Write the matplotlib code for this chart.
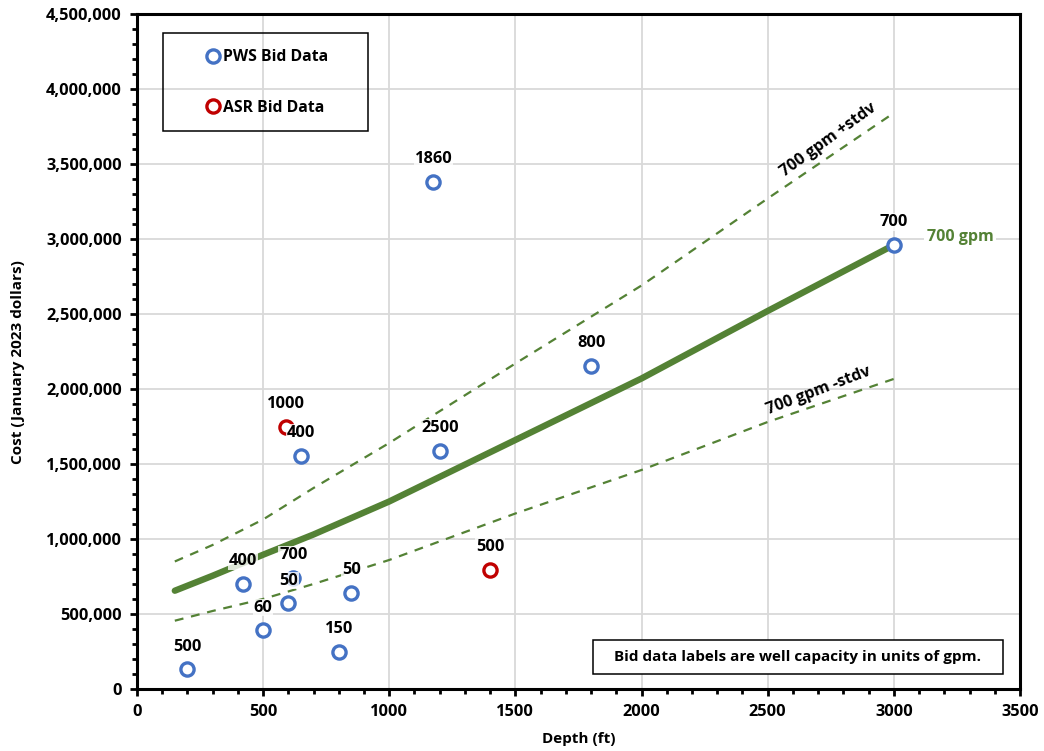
import numpy as np
import matplotlib
matplotlib.use('Agg')
import matplotlib.pyplot as plt
from matplotlib.ticker import MultipleLocator, FuncFormatter
from matplotlib.patches import Rectangle

plt.rcParams['font.family'] = ['Open Sans', 'DejaVu Sans']
plt.rcParams['font.weight'] = 'bold'

# bid data (depth ft, cost $, capacity gpm)
pws_depth = [200, 420, 500, 600, 620, 650, 800, 850, 1175, 1200, 1800, 3000]
pws_cost = [130000, 700000, 390000, 570000, 740000, 1553000, 245000, 640000, 3380000, 1587000, 2153000, 2960000]
pws_gpm = ['500', '400', '60', '50', '700', '400', '150', '50', '1860', '2500', '800', '700']

asr_depth = [590, 1400]
asr_cost = [1747000, 793000]
asr_gpm = ['1000', '500']

# 700 gpm cost curves
curve_depth = [150, 300, 500, 700, 1000, 1500, 2000, 2500, 3000]
curve_mean = [655000, 755000, 895000, 1030000, 1250000, 1660000, 2070000, 2520000, 2960000]
curve_hi = [850000, 960000, 1130000, 1340000, 1640000, 2170000, 2690000, 3270000, 3840000]
curve_lo = [455000, 520000, 600000, 700000, 860000, 1170000, 1460000, 1780000, 2067000]

green = '#548235'
blue = '#4472C4'
red = '#C00000'

fig = plt.figure(figsize=(10.44, 7.51), dpi=100)
ax = fig.add_axes([0.1312, 0.0826, 0.8458, 0.8988])

ax.plot(curve_depth, curve_hi, '--', color=green, lw=1.6, dashes=(4, 3.5), zorder=3)
ax.plot(curve_depth, curve_lo, '--', color=green, lw=1.6, dashes=(4, 3.5), zorder=3)
ax.plot(curve_depth, curve_mean, '-', color=green, lw=4.6, solid_capstyle='round', zorder=3)

ax.plot(pws_depth, pws_cost, 'o', ls='none', mfc='white', mec=blue, ms=9.5, mew=2.4,
        label='PWS Bid Data', zorder=4)
ax.plot(asr_depth, asr_cost, 'o', ls='none', mfc='white', mec=red, ms=9.5, mew=2.4,
        label='ASR Bid Data', zorder=4)

for d, c, t in zip(pws_depth + asr_depth, pws_cost + asr_cost, pws_gpm + asr_gpm):
    ax.annotate(t, (d, c), xytext=(0, 16.5), textcoords='offset points', ha='center', va='center',
                fontsize=11.8, fontweight='bold', color='black', zorder=6,
                bbox=dict(boxstyle='square,pad=0.05', fc='white', ec='none', alpha=0.8))

ax.set_xlim(0, 3500)
ax.set_ylim(0, 4500000)
ax.xaxis.set_major_locator(MultipleLocator(500))
ax.xaxis.set_minor_locator(MultipleLocator(100))
ax.yaxis.set_major_locator(MultipleLocator(500000))
ax.yaxis.set_minor_locator(MultipleLocator(100000))
ax.yaxis.set_major_formatter(FuncFormatter(lambda v, p: '{:,.0f}'.format(v)))
ax.grid(True, which='major', color='#d9d9d9', lw=1.3, zorder=0)
ax.set_axisbelow(True)
ax.tick_params(which='major', direction='out', length=5, width=2, labelsize=11.8)
ax.tick_params(axis='x', which='major', pad=6)
ax.tick_params(axis='y', which='major', pad=6)
ax.tick_params(which='minor', direction='out', length=3.5, width=2)
for lab in ax.get_xticklabels() + ax.get_yticklabels():
    lab.set_fontweight('bold')
for s in ax.spines.values():
    s.set_linewidth(2.2)
    s.set_color('black')

ax.set_xlabel('Depth (ft)', fontsize=11, fontweight='bold')
ax.set_ylabel('Cost (January 2023 dollars)', fontsize=11, fontweight='bold')
ax.xaxis.set_label_coords(0.5, -0.064)
ax.yaxis.set_label_coords(-0.127, 0.485)

# legend with its own frame
ax.add_patch(Rectangle((0.0294, 0.827), 0.232, 0.145, transform=ax.transAxes,
                       fill=False, ec='black', lw=1.1, zorder=7))
ax.legend(loc='upper left', bbox_to_anchor=(0.0767, 0.9475), frameon=False, borderpad=0,
          borderaxespad=0, handlelength=1.0, handletextpad=0.15, labelspacing=2.2,
          prop={'size': 11.3, 'weight': 'bold'})

ax.text(3130, 3010000, '700 gpm', color=green, fontsize=11.5, fontweight='bold', ha='left', va='center',
        bbox=dict(boxstyle='square,pad=0.15', fc='white', ec='none'), zorder=5)
ax.text(2740, 3660000, '700 gpm +stdv', rotation=36, fontsize=11.5, fontweight='bold',
        ha='center', va='center', zorder=5)
ax.text(2700, 1985000, '700 gpm -stdv', rotation=21, fontsize=11.5, fontweight='bold',
        ha='center', va='center', zorder=5)

# note box
ax.add_patch(Rectangle((0.5164, 0.0222), 0.4643, 0.0504, transform=ax.transAxes,
                       fc='white', ec='black', lw=1.1, zorder=7))
ax.text(0.7486, 0.0474, 'Bid data labels are well capacity in units of gpm.', transform=ax.transAxes,
        ha='center', va='center', fontsize=11, fontweight='bold', zorder=8)

fig.savefig('out.png', dpi=100)
